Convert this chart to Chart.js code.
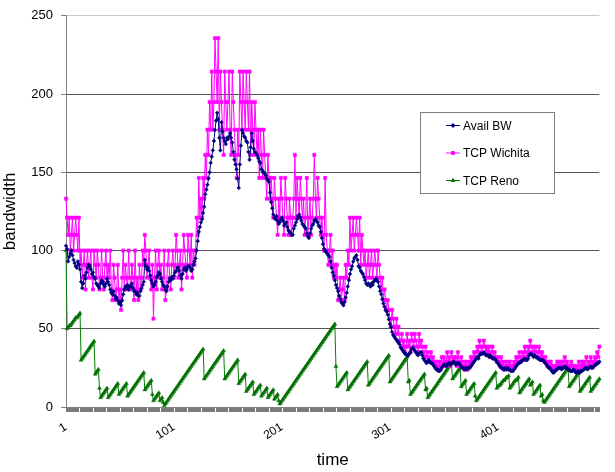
<!DOCTYPE html>
<html>
<head>
<meta charset="utf-8">
<script src="https://cdn.jsdelivr.net/npm/chart.js@4.4.0/dist/chart.umd.min.js"></script>
<style>
  html, body { margin: 0; padding: 0; background: #fff; overflow: hidden; }
</style>
</head>
<body>
<canvas id="bwChart" width="615" height="472"></canvas>
<script>
// series values, one per time step
const availBW = [
  103, 101, 93, 96, 98, 100, 97, 94, 92, 90,
  89, 93, 91, 88, 80, 76, 79, 84, 82, 86,
  89, 91, 90, 88, 85, 86, 83, 82, 79, 78,
  77, 76, 79, 81, 80, 78, 77, 79, 82, 80,
  78, 75, 73, 72, 74, 71, 69, 70, 68, 66,
  67, 65, 68, 72, 75, 77, 76, 78, 75, 77,
  77, 79, 76, 74, 74, 72, 73, 71, 71, 74,
  76, 78, 80, 94, 90, 88, 89, 87, 84, 81,
  79, 77, 78, 80, 83, 84, 86, 85, 82, 80,
  78, 77, 75, 74, 77, 80, 82, 81, 83, 82,
  84, 86, 87, 89, 89, 87, 84, 82, 85, 88,
  89, 87, 88, 90, 90, 89, 87, 88, 91, 93,
  95, 100, 106, 112, 115, 118, 120, 124, 128, 136,
  139, 142, 146, 150, 156, 160, 164, 170, 177, 183,
  188, 184, 172, 164, 182, 176, 172, 170, 168, 172,
  171, 173, 175, 172, 169, 163, 158, 155, 152, 146,
  140, 155, 167, 177, 175, 173, 172, 170, 169, 163,
  158, 166, 175, 170, 165, 163, 162, 161, 159, 157,
  156, 152, 151, 150, 149, 148, 146, 145, 144, 137,
  131, 127, 123, 121, 120, 122, 119, 117, 118, 120,
  121, 119, 116, 117, 118, 115, 113, 112, 111, 110,
  110, 114, 116, 118, 120, 122, 123, 121, 119, 117,
  116, 115, 114, 111, 109, 108, 111, 114, 116, 117,
  119, 120, 119, 118, 116, 115, 112, 108, 104, 101,
  100, 99, 98, 97, 96, 93, 89, 86, 84, 81,
  78, 76, 74, 71, 69, 67, 66, 65, 67, 70,
  73, 77, 81, 85, 88, 90, 93, 95, 96, 97,
  94, 90, 89, 87, 86, 85, 83, 81, 79, 78,
  79, 78, 77, 79, 78, 80, 81, 82, 81, 80,
  77, 74, 72, 69, 66, 64, 62, 61, 59, 56,
  53, 51, 48, 46, 45, 44, 43, 42, 41, 40,
  38, 37, 36, 35, 34, 34, 33, 33, 34, 35,
  37, 38, 37, 36, 35, 34, 33, 34, 35, 35,
  33, 31, 30, 29, 28, 29, 30, 29, 28, 28,
  27, 26, 25, 24, 24, 23, 23, 24, 25, 26,
  27, 27, 26, 27, 28, 28, 27, 28, 28, 29,
  28, 27, 28, 28, 28, 27, 26, 25, 25, 24,
  25, 24, 25, 25, 25, 26, 27, 28, 29, 30,
  31, 32, 31, 33, 34, 34, 34, 35, 34, 33,
  33, 33, 32, 33, 32, 31, 31, 31, 30, 29,
  28, 27, 26, 25, 25, 24, 24, 25, 24, 25,
  24, 24, 23, 23, 23, 24, 25, 26, 27, 28,
  28, 29, 29, 30, 30, 31, 30, 30, 31, 33,
  34, 34, 33, 32, 33, 32, 32, 31, 31, 30,
  30, 30, 30, 29, 28, 27, 26, 25, 25, 24,
  23, 22, 22, 23, 24, 24, 25, 25, 25, 24,
  25, 25, 26, 25, 25, 24, 24, 23, 23, 23,
  24, 23, 22, 22, 23, 22, 22, 23, 23, 24,
  24, 25, 25, 24, 25, 25, 26, 25, 25, 26,
  27, 27, 28, 28, 29
];

const tcpWichita = [
  133.1, 121, 110, 121, 100, 110, 121, 100, 110, 121,
  110, 100, 121, 90.9, 100, 82.6, 90.9, 100, 75.1, 90.9,
  100, 82.6, 90.9, 100, 82.6, 75.1, 100, 90.9, 82.6, 100,
  90.9, 75.1, 82.6, 100, 82.6, 75.1, 90.9, 100, 82.6, 90.9,
  82.6, 100, 75.1, 68.3, 90.9, 82.6, 68.3, 75.1, 90.9, 68.3,
  75.1, 62.1, 82.6, 100, 75.1, 90.9, 82.6, 75.1, 100, 82.6,
  75.1, 90.9, 82.6, 68.3, 100, 75.1, 82.6, 68.3, 90.9, 75.1,
  82.6, 100, 90.9, 110, 100, 82.6, 90.9, 100, 82.6, 75.1,
  90.9, 56.4, 82.6, 100, 75.1, 90.9, 100, 82.6, 90.9, 75.1,
  82.6, 100, 68.3, 75.1, 90.9, 100, 82.6, 75.1, 90.9, 100,
  82.6, 90.9, 110, 100, 82.6, 90.9, 100, 75.1, 90.9, 110,
  100, 90.9, 82.6, 110, 100, 90.9, 110, 82.6, 100, 90.9,
  100, 121, 110, 146.4, 121, 133.1, 121, 146.4, 133.1, 161.1,
  146.4, 177.2, 161.1, 194.9, 177.2, 214.4, 177.2, 194.9, 235.8, 214.4,
  194.9, 235.8, 177.2, 214.4, 194.9, 177.2, 161.1, 214.4, 194.9, 177.2,
  194.9, 214.4, 177.2, 161.1, 214.4, 194.9, 177.2, 161.1, 146.4, 177.2,
  161.1, 214.4, 194.9, 177.2, 214.4, 194.9, 177.2, 214.4, 194.9, 177.2,
  214.4, 161.1, 194.9, 177.2, 161.1, 194.9, 177.2, 161.1, 177.2, 146.4,
  177.2, 161.1, 146.4, 177.2, 161.1, 146.4, 133.1, 161.1, 146.4, 133.1,
  146.4, 133.1, 121, 146.4, 133.1, 121, 110, 133.1, 121, 146.4,
  133.1, 121, 110, 146.4, 133.1, 121, 110, 133.1, 121, 110,
  121, 133.1, 161.1, 121, 146.4, 133.1, 121, 146.4, 133.1, 121,
  133.1, 110, 121, 146.4, 110, 121, 133.1, 110, 121, 133.1,
  161.1, 133.1, 121, 146.4, 133.1, 121, 110, 121, 110, 100,
  146.4, 110, 100, 90.9, 100, 110, 90.9, 100, 82.6, 90.9,
  82.6, 90.9, 68.3, 75.1, 82.6, 68.3, 75.1, 82.6, 68.3, 90.9,
  82.6, 100, 90.9, 121, 100, 110, 121, 100, 110, 121,
  110, 100, 121, 90.9, 110, 100, 90.9, 100, 82.6, 90.9,
  100, 82.6, 90.9, 100, 82.6, 90.9, 100, 90.9, 82.6, 100,
  90.9, 82.6, 75.1, 82.6, 68.3, 75.1, 68.3, 62.1, 68.3, 62.1,
  56.4, 51.3, 62.1, 56.4, 51.3, 46.7, 56.4, 46.7, 51.3, 42.4,
  42.4, 46.7, 38.6, 42.4, 35.0, 38.6, 46.7, 38.6, 42.4, 35.0,
  46.7, 42.4, 38.6, 46.7, 42.4, 38.6, 35.0, 46.7, 38.6, 42.4,
  38.6, 35.0, 31.9, 38.6, 31.9, 35.0, 29.0, 31.9, 35.0, 29.0,
  31.9, 29.0, 26.3, 29.0, 23.9, 26.3, 29.0, 23.9, 31.9, 26.3,
  31.9, 29.0, 26.3, 35.0, 29.0, 31.9, 26.3, 35.0, 29.0, 31.9,
  29.0, 31.9, 26.3, 35.0, 29.0, 26.3, 31.9, 29.0, 26.3, 23.9,
  29.0, 26.3, 23.9, 29.0, 26.3, 31.9, 29.0, 31.9, 35.0, 31.9,
  35.0, 38.6, 35.0, 42.4, 38.6, 35.0, 38.6, 42.4, 38.6, 35.0,
  38.6, 35.0, 38.6, 31.9, 35.0, 38.6, 31.9, 35.0, 31.9, 29.0,
  31.9, 29.0, 26.3, 31.9, 26.3, 29.0, 23.9, 26.3, 29.0, 26.3,
  23.9, 29.0, 26.3, 23.9, 26.3, 29.0, 26.3, 31.9, 29.0, 31.9,
  35.0, 29.0, 31.9, 35.0, 31.9, 38.6, 35.0, 31.9, 38.6, 35.0,
  42.4, 38.6, 35.0, 38.6, 35.0, 38.6, 35.0, 31.9, 38.6, 35.0,
  31.9, 35.0, 31.9, 29.0, 31.9, 29.0, 26.3, 29.0, 26.3, 29.0,
  26.3, 23.9, 26.3, 23.9, 26.3, 29.0, 26.3, 29.0, 26.3, 29.0,
  26.3, 29.0, 31.9, 26.3, 29.0, 26.3, 23.9, 26.3, 29.0, 26.3,
  23.9, 26.3, 23.9, 26.3, 23.9, 29.0, 23.9, 26.3, 29.0, 26.3,
  29.0, 26.3, 31.9, 26.3, 29.0, 26.3, 31.9, 29.0, 26.3, 29.0,
  31.9, 29.0, 35.0, 31.9, 38.6
];

const tcpReno = [
  100, 50, 51, 52, 52, 53, 54, 55, 56, 57,
  57, 58, 59, 60, 30, 31, 32, 33, 34, 35,
  36, 37, 38, 39, 40, 41, 42, 21, 22, 23,
  24, 12, 6, 7, 8, 9, 10, 11, 12, 6,
  7, 8, 9, 10, 11, 12, 13, 14, 15, 8,
  9, 10, 11, 12, 13, 14, 15, 7, 8, 9,
  10, 11, 12, 13, 14, 15, 16, 17, 18, 19,
  20, 21, 22, 11, 12, 13, 14, 15, 16, 17,
  8, 4, 5, 6, 7, 8, 9, 4, 5, 6,
  3, 1, 2, 3, 4, 5, 6, 7, 8, 9,
  10, 11, 12, 13, 14, 15, 16, 17, 18, 19,
  20, 21, 22, 23, 24, 25, 26, 27, 28, 29,
  30, 31, 32, 33, 34, 35, 36, 37, 18, 19,
  20, 21, 22, 23, 24, 25, 26, 27, 28, 29,
  30, 31, 32, 33, 34, 35, 36, 18, 19, 20,
  21, 22, 23, 24, 25, 26, 27, 28, 29, 30,
  15, 16, 17, 18, 19, 20, 21, 10, 11, 12,
  13, 14, 15, 16, 8, 9, 10, 11, 12, 13,
  14, 7, 8, 9, 10, 11, 12, 6, 7, 8,
  9, 10, 11, 5, 6, 7, 8, 4, 2, 3,
  4, 5, 6, 7, 8, 9, 10, 11, 12, 13,
  14, 15, 16, 17, 18, 19, 20, 21, 22, 23,
  24, 25, 26, 27, 28, 29, 30, 31, 32, 33,
  34, 35, 36, 37, 38, 39, 40, 41, 42, 43,
  44, 45, 46, 47, 48, 49, 50, 51, 52, 53,
  26, 13, 14, 15, 16, 17, 18, 19, 20, 21,
  22, 11, 12, 13, 14, 15, 16, 17, 18, 19,
  20, 21, 22, 23, 24, 25, 26, 27, 28, 29,
  14, 15, 16, 17, 18, 19, 20, 21, 22, 23,
  24, 25, 26, 27, 28, 29, 30, 31, 32, 33,
  16, 17, 18, 19, 20, 21, 22, 23, 24, 25,
  26, 27, 28, 29, 30, 31, 32, 16, 17, 8,
  9, 10, 11, 12, 13, 14, 15, 16, 17, 18,
  19, 20, 21, 11, 12, 6, 7, 8, 9, 10,
  11, 12, 13, 14, 15, 16, 17, 18, 19, 20,
  21, 22, 23, 24, 25, 26, 27, 28, 18, 19,
  20, 21, 22, 23, 24, 25, 13, 14, 15, 16,
  17, 8, 9, 10, 11, 12, 13, 14, 15, 7,
  4, 5, 6, 7, 8, 9, 10, 11, 12, 13,
  14, 15, 16, 17, 18, 19, 20, 21, 22, 12,
  13, 14, 14, 15, 16, 17, 17, 18, 19, 19,
  20, 12, 13, 14, 15, 16, 17, 17, 18, 19,
  9, 10, 11, 12, 13, 14, 15, 16, 17, 18,
  14, 15, 16, 8, 9, 10, 11, 12, 13, 14,
  7, 8, 4, 3, 4, 5, 6, 7, 8, 9,
  10, 11, 12, 13, 14, 15, 16, 17, 18, 19,
  20, 21, 22, 23, 24, 25, 13, 14, 15, 16,
  17, 18, 19, 20, 21, 22, 10, 11, 12, 13,
  14, 15, 16, 17, 18, 19, 10, 11, 12, 13,
  14, 15, 16, 17, 18
];

const seriesNames = ['Avail BW', 'TCP Wichita', 'TCP Reno'];
const xTickLabels = ['1', '101', '201', '301', '401'];
const yTicks = [0, 50, 100, 150, 200, 250];

const time = availBW.map((v, i) => String(i + 1));
const FONT = "'Liberation Sans', Arial, sans-serif";

// legend box sitting inside the plot, like the original
const legendBox = {
  id: 'legendBox',
  afterDraw(chart) {
    const ctx = chart.ctx;
    ctx.save();
    ctx.fillStyle = '#fff';
    ctx.fillRect(420.5, 112.5, 134, 81);
    ctx.strokeStyle = '#808080';
    ctx.lineWidth = 1;
    ctx.strokeRect(420.5, 112.5, 134, 81);
    chart.data.datasets.forEach((ds, i) => {
      const y = 125.5 + i * 27.5;
      ctx.strokeStyle = ds.borderColor;
      ctx.lineWidth = 1;
      ctx.beginPath();
      ctx.moveTo(446, y);
      ctx.lineTo(460, y);
      ctx.stroke();
      ctx.fillStyle = ds.pointBackgroundColor;
      ctx.strokeStyle = ds.pointBorderColor;
      Chart.helpers.drawPoint(ctx, { pointStyle: ds.pointStyle, radius: 2, borderWidth: 1, rotation: 0 }, 453, y);
      ctx.fillStyle = '#000';
      ctx.font = '12px ' + FONT;
      ctx.textBaseline = 'middle';
      ctx.textAlign = 'left';
      ctx.fillText(ds.label, 463, y + 1);
    });
    ctx.restore();
  }
};

const ctx = document.getElementById('bwChart').getContext('2d');
const myChart = new Chart(ctx, {
  type: 'line',
  data: {
    labels: time,
    datasets: [{
      label: seriesNames[0],
      data: availBW,
      borderColor: '#000080',
      borderWidth: 1,
      pointStyle: 'rectRot',
      pointRadius: 1.9,
      pointBackgroundColor: '#000080',
      pointBorderColor: '#000080',
      pointBorderWidth: 0.5
    }, {
      label: seriesNames[1],
      data: tcpWichita,
      borderColor: '#ff00ff',
      borderWidth: 1,
      pointStyle: 'rect',
      pointRadius: 2.3,
      pointBackgroundColor: '#ff00ff',
      pointBorderColor: '#ff00ff',
      pointBorderWidth: 0.5
    }, {
      label: seriesNames[2],
      data: tcpReno,
      borderColor: '#008000',
      borderWidth: 1,
      pointStyle: 'triangle',
      pointRadius: 2.2,
      pointBackgroundColor: '#007000',
      pointBorderColor: '#007000',
      pointBorderWidth: 0.5
    }]
  },
  options: {
    responsive: false,
    animation: false,
    events: [],
    layout: { padding: { top: 14, right: 0, bottom: 0, left: 0 } },
    plugins: {
      legend: { display: false },
      tooltip: { enabled: false }
    },
    elements: { line: { tension: 0 } },
    scales: {
      x: {
        type: 'category',
        offset: false,
        border: { color: '#808080' },
        grid: { display: true, drawOnChartArea: false, tickLength: 5, tickWidth: 0.6, tickColor: '#202020' },
        ticks: {
          autoSkip: false,
          minRotation: 32,
          maxRotation: 32,
          padding: 8,
          color: '#000',
          font: { family: FONT, size: 12 },
          callback: function (value, index) {
            const lab = time[index];
            return xTickLabels.includes(lab) ? lab : '';
          }
        },
        title: { display: true, text: 'time', color: '#000', font: { family: FONT, size: 17 }, padding: { top: 0, bottom: 1 } },
        afterFit(scale) { scale.height = 65; }
      },
      y: {
        min: 0,
        max: 250,
        border: { color: '#808080' },
        grid: {
          tickLength: 5,
          tickColor: '#808080',
          color: c => c.tick.value === 250 ? '#c8c8c8' : (c.tick.value === 0 ? 'rgba(0,0,0,0)' : '#555555')
        },
        afterBuildTicks(scale) { scale.ticks = yTicks.map(v => ({ value: v })); },
        ticks: { color: '#000', padding: 8, font: { family: FONT, size: 13 } },
        title: { display: true, text: 'bandwidth', color: '#000', font: { family: FONT, size: 17 }, padding: { top: 0, bottom: 6 } },
        afterFit(scale) { scale.width = 66; }
      }
    }
  },
  plugins: [legendBox]
});
</script>
</body>
</html>
